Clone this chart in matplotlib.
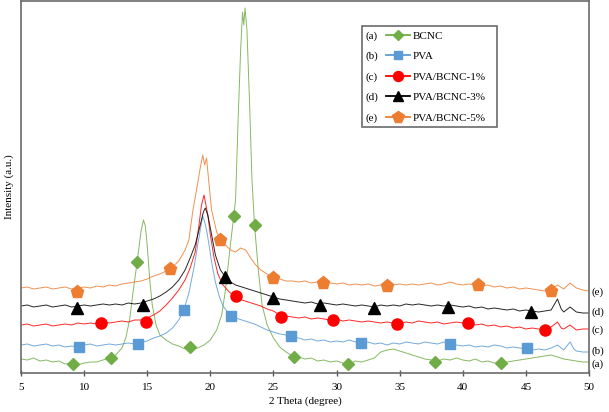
import matplotlib
matplotlib.use("Agg")
import matplotlib.pyplot as plt
from matplotlib.lines import Line2D
from matplotlib.patches import Rectangle
import matplotlib.transforms as mtransforms

plt.rcParams['font.family'] = ['Liberation Serif', 'DejaVu Serif']
plt.rcParams['font.size'] = 8

# --- data (intensity in arbitrary units) ---
bcnc_x = [5.0, 5.5, 6.0, 6.5, 7.0, 7.5, 8.0, 8.5, 9.0, 9.5, 10.0, 10.5, 11.0, 11.5, 12.0, 12.5,
          13.0, 13.3, 13.6, 13.9, 14.2, 14.5, 14.7, 14.85, 15.0, 15.2, 15.4, 15.7, 16.0, 16.5,
          17.0, 17.5, 18.0, 18.5, 19.0, 19.5, 20.0, 20.5, 20.9, 21.2, 21.5, 21.8, 22.0, 22.2,
          22.4, 22.55, 22.65, 22.75, 22.9, 23.1, 23.3, 23.5, 23.8, 24.1, 24.5, 25.0, 25.5, 26.0,
          26.5, 27.0, 27.5, 28.0, 28.5, 29.0, 29.5, 30.0, 30.5, 31.0, 31.5, 32.0, 32.5, 33.0,
          33.5, 34.0, 34.5, 35.0, 35.5, 36.0, 36.5, 37.0, 37.5, 38.0, 38.5, 39.0, 39.5, 40.0,
          40.5, 41.0, 41.5, 42.0, 42.5, 43.0, 43.5, 44.0, 44.5, 45.0, 45.5, 46.0, 46.5, 47.0,
          47.5, 48.0, 48.5, 49.0, 49.5, 50.0]
bcnc_y = [14, 13, 15, 12, 13, 11, 12, 9, 10, 8, 10, 11, 11, 13, 15, 18,
          25, 35, 53, 83, 111, 141, 153, 147, 128, 93, 68, 48, 38, 33,
          29, 27, 24, 23, 25, 28, 33, 43, 58, 83, 118, 151, 173, 253,
          323, 361, 348, 365, 343, 273, 193, 148, 103, 68, 48, 35, 26, 21,
          17, 16, 14, 15, 12, 13, 11, 12, 10, 9, 12, 11, 13, 15,
          21, 23, 24, 22, 20, 18, 16, 14, 13, 12, 14, 13, 15, 13,
          12, 14, 11, 12, 10, 9, 11, 12, 13, 14, 15, 16, 17, 18,
          16, 14, 13, 12, 11, 11]

pva_x = [5.0, 5.5, 6.0, 6.5, 7.0, 7.5, 8.0, 8.5, 9.0, 9.5, 10.0, 10.5, 11.0, 11.5, 12.0, 12.5,
         13.0, 13.5, 14.0, 14.5, 15.0, 15.5, 16.0, 16.5, 17.0, 17.5, 17.9, 18.3, 18.7, 19.0,
         19.2, 19.4, 19.55, 19.7, 19.9, 20.1, 20.4, 20.7, 21.0, 21.5, 22.0, 22.5, 23.0, 23.5,
         24.0, 24.5, 25.0, 25.5, 26.0, 26.5, 27.0, 27.5, 28.0, 28.5, 29.0, 29.5, 30.0, 30.5,
         31.0, 31.5, 32.0, 32.5, 33.0, 33.5, 34.0, 34.5, 35.0, 35.5, 36.0, 36.5, 37.0, 37.5,
         38.0, 38.5, 39.0, 39.5, 40.0, 40.5, 41.0, 41.5, 42.0, 42.5, 43.0, 43.5, 44.0, 44.5,
         45.0, 45.5, 46.0, 46.5, 47.0, 47.5, 48.0, 48.5, 48.8, 49.0, 49.5, 50.0]
pva_y = [28, 29, 27, 28, 29, 27, 28, 26, 27, 26, 28, 29, 27, 28, 29, 28,
         29, 30, 29, 31, 32, 35, 37, 40, 45, 53, 63, 80, 105, 128,
         143, 157, 151, 143, 128, 111, 91, 77, 67, 59, 55, 53, 51, 49,
         46, 43, 41, 39, 38, 36, 35, 33, 34, 32, 33, 31, 32, 31,
         33, 31, 30, 31, 29, 30, 28, 30, 29, 31, 30, 29, 31, 30,
         29, 31, 29, 28, 27, 28, 26, 27, 26, 28, 27, 25, 26, 25,
         24, 23, 24, 23, 25, 28, 23, 31, 24, 22, 21, 21]

pva1_x = [5.0, 5.5, 6.0, 6.5, 7.0, 7.5, 8.0, 8.5, 9.0, 9.5, 10.0, 10.5, 11.0, 11.5, 12.0, 12.5,
          13.0, 13.5, 14.0, 14.5, 15.0, 15.5, 16.0, 16.5, 17.0, 17.5, 18.0, 18.4, 18.8, 19.1,
          19.3, 19.5, 19.65, 19.8, 20.0, 20.3, 20.6, 21.0, 21.5, 22.0, 22.5, 23.0, 23.5, 24.0,
          24.5, 25.0, 25.5, 26.0, 26.5, 27.0, 27.5, 28.0, 28.5, 29.0, 29.5, 30.0, 30.5, 31.0,
          31.5, 32.0, 32.5, 33.0, 33.5, 34.0, 34.5, 35.0, 35.5, 36.0, 36.5, 37.0, 37.5, 38.0,
          38.5, 39.0, 39.5, 40.0, 40.5, 41.0, 41.5, 42.0, 42.5, 43.0, 43.5, 44.0, 44.5, 45.0,
          45.5, 46.0, 46.5, 47.0, 47.5, 47.8, 48.0, 48.5, 49.0, 49.5, 50.0]
pva1_y = [48, 49, 47, 48, 49, 47, 48, 49, 48, 50, 49, 50, 49, 51, 50, 51,
          52, 51, 53, 53, 55, 58, 62, 68, 75, 83, 93, 105, 121, 148,
          168, 178, 168, 158, 138, 115, 99, 88, 81, 76, 73, 71, 69, 67,
          64, 62, 58, 57, 56, 55, 56, 54, 55, 54, 53, 54, 52, 53,
          52, 51, 52, 51, 50, 51, 50, 49, 51, 50, 52, 51, 50, 51,
          49, 50, 51, 50, 49, 48, 49, 47, 48, 46, 47, 45, 46, 44,
          45, 44, 43, 46, 51, 45, 44, 48, 43, 44, 44]

pva3_x = [5.0, 5.5, 6.0, 6.5, 7.0, 7.5, 8.0, 8.5, 9.0, 9.5, 10.0, 10.5, 11.0, 11.5, 12.0, 12.5,
          13.0, 13.5, 14.0, 14.5, 15.0, 15.5, 16.0, 16.5, 17.0, 17.5, 18.0, 18.4, 18.8, 19.2,
          19.45, 19.6, 19.8, 20.0, 20.4, 20.8, 21.2, 21.6, 22.0, 22.5, 23.0, 23.5, 24.0, 24.5,
          25.0, 25.5, 26.0, 26.5, 27.0, 27.5, 28.0, 28.5, 29.0, 29.5, 30.0, 30.5, 31.0, 31.5,
          32.0, 32.5, 33.0, 33.5, 34.0, 34.5, 35.0, 35.5, 36.0, 36.5, 37.0, 37.5, 38.0, 38.5,
          39.0, 39.5, 40.0, 40.5, 41.0, 41.5, 42.0, 42.5, 43.0, 43.5, 44.0, 44.5, 45.0, 45.5,
          46.0, 46.5, 47.0, 47.5, 47.8, 48.0, 48.5, 49.0, 49.5, 50.0]
pva3_y = [67, 68, 66, 67, 68, 66, 67, 68, 66, 67, 68, 67, 68, 69, 68, 69,
          68, 70, 69, 70, 72, 74, 77, 81, 86, 93, 103, 115, 128, 148,
          161, 165, 158, 145, 118, 103, 96, 91, 88, 86, 84, 82, 80, 78,
          76, 74, 73, 72, 71, 70, 71, 69, 70, 69, 68, 69, 68, 67,
          68, 67, 66, 68, 67, 68, 67, 69, 68, 69, 68, 67, 68, 67,
          68, 67, 66, 67, 65, 66, 64, 65, 64, 63, 64, 62, 63, 62,
          61, 62, 63, 74, 64, 61, 66, 61, 60, 60]

pva5_x = [5.0, 5.5, 6.0, 6.5, 7.0, 7.5, 8.0, 8.5, 9.0, 9.5, 10.0, 10.5, 11.0, 11.5, 12.0, 12.5,
          13.0, 13.5, 14.0, 14.5, 15.0, 15.5, 16.0, 16.5, 17.0, 17.5, 18.0, 18.3, 18.6, 19.0,
          19.2, 19.4, 19.55, 19.7, 19.85, 20.1, 20.5, 20.8, 21.2, 21.6, 22.0, 22.4, 22.8, 23.2,
          23.6, 24.0, 24.5, 25.0, 25.5, 26.0, 26.5, 27.0, 27.5, 28.0, 28.5, 29.0, 29.5, 30.0,
          30.5, 31.0, 31.5, 32.0, 32.5, 33.0, 33.5, 34.0, 34.5, 35.0, 35.5, 36.0, 36.5, 37.0,
          37.5, 38.0, 38.5, 39.0, 39.5, 40.0, 40.5, 41.0, 41.5, 42.0, 42.5, 43.0, 43.5, 44.0,
          44.5, 45.0, 45.5, 46.0, 46.5, 47.0, 47.5, 48.0, 48.5, 49.0, 49.5, 50.0]
pva5_y = [85, 86, 84, 85, 86, 84, 85, 86, 84, 85, 86, 85, 87, 86, 88, 87,
          89, 90, 91, 92, 94, 97, 99, 102, 106, 112, 123, 133, 161, 190,
          205, 218, 208, 215, 195, 163, 141, 133, 128, 123, 121, 125, 123, 115,
          108, 103, 99, 96, 94, 92, 92, 91, 92, 90, 91, 89, 90, 89,
          90, 88, 89, 88, 89, 87, 88, 87, 88, 89, 88, 89, 88, 89,
          90, 88, 89, 91, 89, 88, 89, 88, 87, 88, 86, 87, 85, 86,
          84, 85, 84, 83, 82, 83, 88, 84, 90, 85, 83, 82]

# marker positions
bcnc_mx = [9.1, 12.1, 14.2, 18.4, 21.9, 23.5, 26.6, 30.9, 37.8, 43.0]
bcnc_my = [9, 15, 111, 26, 157, 148, 16, 9, 11, 10]
pva_mx = [9.6, 14.3, 17.9, 21.6, 26.4, 31.9, 39.0, 45.1]
pva_my = [26, 29, 63, 57, 37, 30, 29, 25]
pva1_mx = [11.3, 14.9, 22.0, 25.6, 29.7, 34.8, 40.4, 46.5]
pva1_my = [50, 51, 77, 56, 53, 49, 50, 43]
pva3_mx = [9.4, 14.7, 21.2, 25.0, 28.7, 33.0, 38.8, 45.4]
pva3_my = [65, 68, 96, 75, 68, 65, 66, 61]
pva5_mx = [9.4, 16.8, 20.8, 25.0, 28.9, 34.0, 41.2, 47.0]
pva5_my = [81, 104, 133, 95, 90, 87, 88, 82]

names = ['BCNC', 'PVA', 'PVA/BCNC-1%', 'PVA/BCNC-3%', 'PVA/BCNC-5%']
tags = ['(a)', '(b)', '(c)', '(d)', '(e)']
tag_y = [9, 22, 43, 61, 81]
x_ticks = [5, 10, 15, 20, 25, 30, 35, 40, 45, 50]

colors = ['#70AD47', '#5B9BD5', '#FF0000', '#000000', '#ED7D31']
markers = ['D', 's', 'o', '^', 'p']
msizes = [6, 7, 8, 8.5, 9.5]

series = [(bcnc_x, bcnc_y, bcnc_mx, bcnc_my),
          (pva_x, pva_y, pva_mx, pva_my),
          (pva1_x, pva1_y, pva1_mx, pva1_my),
          (pva3_x, pva3_y, pva3_mx, pva3_my),
          (pva5_x, pva5_y, pva5_mx, pva5_my)]

fig = plt.figure(figsize=(6.09, 4.12), dpi=100)
ax = fig.add_axes([21 / 609, 39 / 412, 568 / 609, 372 / 412])

for (x, y, mx, my), c, m, ms in zip(series, colors, markers, msizes):
    ax.plot(x, y, color=c, lw=0.7, alpha=0.85)
    ax.plot(mx, my, linestyle='none', marker=m, ms=ms, color=c, mec=c)

ax.set_xlim(5, 50)
ax.set_ylim(0, 372)
ax.set_xticks(x_ticks)
ax.set_yticks([])
ax.tick_params(axis='x', direction='inout', length=5, width=1, colors='#595959',
               labelcolor='black', pad=5, labelsize=8)
for s in ax.spines.values():
    s.set_color('#6b6b6b')
    s.set_linewidth(1.2)

ax.set_xlabel('2 Theta (degree)', fontsize=8, labelpad=3)
ax.set_ylabel('Intensity (a.u.)', fontsize=8, labelpad=5)

trans = mtransforms.blended_transform_factory(ax.transAxes, ax.transData)
for t, yy in zip(tags, tag_y):
    ax.text(1.004, yy, t, transform=trans, ha='left', va='center', fontsize=8, clip_on=False)

handles = [Line2D([], [], color=c, lw=1.3, marker=m, ms=ms * 0.9, mec=c)
           for c, m, ms in zip(colors, markers, msizes)]
leg = ax.legend(handles, names, loc='upper left', bbox_to_anchor=(0.632, 0.935),
                frameon=False, borderpad=0, handlelength=2.2, handletextpad=0.2,
                labelspacing=0.97, fontsize=8)

fig.canvas.draw()
inv = ax.transAxes.inverted()
for t, txt in zip(tags, leg.get_texts()):
    bb = txt.get_window_extent()
    cy = inv.transform((0, (bb.y0 + bb.y1) / 2))[1]
    ax.text(0.607, cy, t, transform=ax.transAxes, ha='left', va='center', fontsize=8)

ax.add_patch(Rectangle((0.600, 0.661), 0.238, 0.272, transform=ax.transAxes,
                       fill=False, edgecolor='#6b6b6b', lw=1.2, clip_on=False))

fig.savefig('out.png', dpi=100)
